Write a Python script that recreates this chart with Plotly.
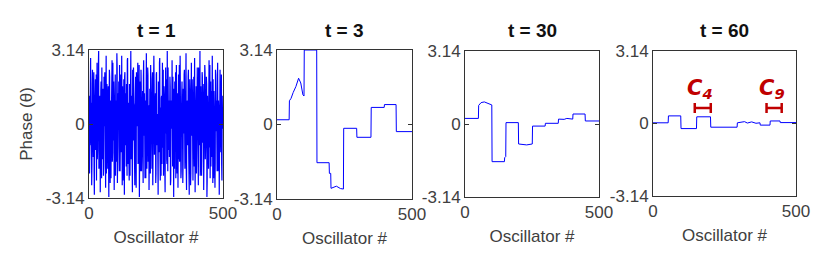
import plotly.graph_objects as go

# the page body adds an 8 px margin, so the figure is 8 px smaller and positions are shifted
OFF = 8
W, H = 830 - OFF, 260 - OFF
BLUE = "#0000ff"
RED = "#c00000"
FONT = "Liberation Sans, Arial, sans-serif"

titles = ["t = 1", "t = 3", "t = 30", "t = 60"]
xtick_vals = [0, 500]
ytick_vals = [-3.14, 0, 3.14]
ytick_text = ["-3.14", "0", "3.14"]

# t = 1 : phases of the even-numbered oscillators (0, 2, ..., 498)
t1_even = [
    1.2, -2.1, 0.4, 2.8, -0.9, -2.6, 1.7, 0.1, -1.4, 2.2, -3.0, 0.8, 1.9, -0.3, -2.4, 2.6, -1.1, 0.6, 3.1, -1.8, 0.2, -2.9, 1.4, -0.6, 2.4,
    -1.5, 0.9, -2.2, 2.0, -0.1, 1.1, -2.7, 2.9, -0.8, 0.3, -1.9, 1.6, -3.1, 2.3, -0.5, 1.0, -2.3, 0.7, 2.7, -1.2, -0.2, 1.8, -2.8, 0.5, 2.1,
    -0.7, -1.6, 3.0, -2.5, 1.3, 0.0, -1.0, 2.5, -2.0, 1.5, -0.4, 2.9, -2.6, 0.6, -1.3, 1.9, -3.0, 2.2, -0.9, 0.4, 1.7, -2.2, 2.8, -1.7, 0.9,
    -2.4, 1.2, -0.3, 3.1, -1.5, 0.2, -2.9, 1.6, 2.4, -0.6, -1.8, 0.8, 2.0, -2.7, 1.1, -0.1, 2.6, -1.4, 0.5, -3.1, 1.8, -0.8, 2.3, -2.0, 0.3,
    1.4, -2.5, 2.7, -0.4, -1.1, 1.0, -2.3, 3.0, -1.9, 0.7, 2.1, -0.2, -2.8, 1.5, -1.6, 2.5, 0.1, -1.0, 1.9, -2.6, 0.6, 2.9, -1.3, -0.5, 1.3,
    -2.1, 2.2, -0.7, 0.4, -3.0, 1.7, -1.2, 2.8, -2.4, 0.0, 1.1, -1.7, 2.6, -0.9, -2.2, 1.6, 0.8, -2.9, 2.4, -0.3, -1.5, 3.1, -2.0, 0.5, 1.0,
    -1.4, 2.0, -2.6, 0.9, -0.2, 2.7, -1.8, 1.2, -3.1, 0.3, 1.8, -0.6, -2.3, 2.5, -1.0, 0.7, -2.7, 2.1, 0.2, -1.6, 2.9, -0.8, -2.0, 1.4, 0.6,
    -2.5, 1.5, -0.4, 2.3, -1.9, 0.1, 3.0, -2.8, 1.0, -0.7, 2.0, -1.2, -3.0, 1.9, 0.4, -2.1, 2.6, -0.5, 1.3, -2.4, 0.8, -1.1, 2.8, -2.9, 0.2,
    1.6, -1.3, 2.4, -0.1, -2.6, 1.1, -0.9, 3.1, -1.7, 0.6, -2.2, 2.2, -0.3, 1.7, -2.8, 0.9, 2.5, -1.5, -0.6, 2.0, -3.1, 1.2, 0.0, -1.9, 2.7,
    -0.8, -2.3, 1.8, 0.5, -1.4, 2.9, -2.5, 0.3, 1.4, -1.0, -2.7, 2.3, -0.2, 1.0, -2.0, 2.6, -1.6, 0.7, -3.0, 1.5, 0.2, -1.2, 2.1, -2.4, 0.8,
]
# t = 1 : phases of the odd-numbered oscillators (1, 3, ..., 499)
t1_odd = [
    0.5, -1.2, 1.9, -0.4, 0.9, -1.7, 2.3, -0.8, 1.3, -2.0, 0.2, 1.6, -1.1, 2.1, -0.6, -1.5, 0.7, 2.5, -1.9, 0.0, 1.2, -0.9, 1.8, -2.3, 0.4,
    -0.3, 1.5, -1.8, 0.8, 2.2, -1.0, 0.3, -2.1, 1.7, -0.5, 1.1, -1.4, 0.6, 2.0, -2.5, 0.9, -0.2, 1.4, -1.6, 2.6, -0.7, 0.1, -1.3, 1.9, -2.2,
    1.0, -0.6, 2.4, -1.5, 0.2, 1.8, -2.0, 0.7, -0.9, 2.1, -1.2, 0.5, 1.6, -2.4, 0.3, -1.1, 2.0, -0.4, 1.3, -1.8, 0.8, 2.7, -1.0, 0.1, -1.6,
    1.7, -2.2, 0.6, -0.3, 1.2, -1.9, 2.3, -0.7, 0.4, 1.5, -2.6, 0.9, -1.3, 2.2, -0.1, 1.0, -1.7, 0.5, 2.5, -1.4, 0.3, -2.0, 1.6, -0.8, 1.1,
    -1.0, 2.0, -0.5, 1.3, -2.3, 0.7, 1.9, -1.2, 0.0, 2.4, -1.6, 0.8, -0.4, 1.5, -2.1, 0.6, 1.1, -1.9, 2.2, -0.2, -1.3, 1.7, -0.6, 0.9, -2.5,
    2.1, -0.9, 0.4, -1.6, 1.8, -0.3, 2.6, -1.4, 0.7, -2.2, 1.2, 0.1, -1.0, 2.3, -0.7, 1.4, -2.0, 0.5, -0.4, 1.9, -1.7, 0.8, 2.4, -1.1, 0.2,
    -0.5, 1.6, -2.4, 1.0, 0.3, -1.3, 2.0, -0.6, 1.5, -1.9, 0.6, 2.2, -1.0, 0.0, -2.1, 1.3, 0.7, -1.5, 2.5, -0.8, 1.1, -2.3, 0.4, 1.8, -0.2,
    -1.7, 0.9, 2.1, -0.4, -1.2, 1.7, -2.0, 0.5, 1.0, -0.9, 2.3, -1.6, 0.2, 1.4, -2.6, 0.8, -0.3, 1.9, -1.1, 0.6, 2.0, -1.8, 0.3, -0.7, 1.5,
    -2.1, 0.7, 1.2, -1.4, 2.4, -0.5, 0.9, -2.2, 1.6, -0.1, -1.5, 2.0, -0.8, 1.1, -1.9, 0.4, 2.2, -1.2, 0.0, 1.7, -2.4, 0.6, -0.6, 1.3, -1.0,
    2.5, -0.7, -1.8, 1.4, 0.2, -1.1, 1.9, -2.3, 0.8, 0.5, -1.6, 2.1, -0.3, -0.9, 1.6, -2.0, 1.0, 0.3, -1.4, 2.3, -0.5, 0.9, -1.7, 1.2, -0.2,
]
t1_x, t1_y = [], []
for k, (ve, vo) in enumerate(zip(t1_even, t1_odd)):
    t1_x += [2 * k, 2 * k + 1]
    t1_y += [ve, vo]

# t = 3 : clusters forming (oscillator index, phase)
t3_x = [0, 45, 46, 52, 60, 70, 80, 88, 96, 100, 101, 147, 148, 193, 194, 199, 200, 220, 235, 246, 247, 295, 296, 348, 349, 397, 398, 441, 442, 500]
t3_y = [0.2, 0.2, 1.0, 1.1, 1.35, 1.6, 1.95, 1.75, 1.25, 1.2, 3.14, 3.14, -1.61, -1.61, -2.06, -2.06, -2.69, -2.6, -2.7, -2.72, -0.16, -0.16, -0.54, -0.54, 0.72, 0.72, 0.84, 0.84, -0.30, -0.30]

# t = 30
t30_x = [0, 50, 51, 60, 72, 85, 100, 101, 147, 148, 152, 153, 199, 200, 230, 251, 252, 299, 300, 348, 349, 370, 380, 402, 403, 448, 449, 500]
t30_y = [0.24, 0.24, 0.80, 0.92, 0.95, 0.88, 0.82, -1.62, -1.62, -1.45, -1.40, 0.06, 0.06, -0.86, -0.90, -0.86, -0.09, -0.09, 0.03, 0.03, 0.21, 0.20, 0.24, 0.21, 0.43, 0.43, 0.13, 0.13]

# t = 60
t60_x = [0, 53, 54, 97, 98, 152, 153, 201, 202, 294, 295, 320, 330, 345, 360, 374, 375, 409, 410, 444, 445, 500]
t60_y = [0.03, 0.03, 0.33, 0.33, -0.22, -0.22, 0.29, 0.29, -0.16, -0.16, 0.03, 0.08, 0.02, 0.07, 0.01, 0.03, -0.07, -0.07, 0.11, 0.11, 0.04, 0.04]

series_x = [t1_x, t3_x, t30_x, t60_x]
series_y = [t1_y, t3_y, t30_y, t60_y]
line_widths = [1.2, 1, 1, 1]

# cluster markers on t = 60 panel: (label, subscript, start, end)
clusters = [("C", "4", 146, 202), ("C", "9", 397, 450)]
cluster_bar_y = 0.67
cluster_label_y = 1.5

# panel pixel boxes in the page (left, right, top, bottom)
boxes = [(89, 223, 50, 198), (277, 412, 50, 199), (465, 599, 51, 197), (653, 796, 51, 196)]


def px(x):
    return (x - OFF) / W


def py(y):
    return 1 - (y - OFF) / H


fig = go.Figure()
for i in range(4):
    n = "" if i == 0 else str(i + 1)
    fig.add_trace(go.Scatter(x=series_x[i], y=series_y[i], mode="lines",
                             line=dict(color=BLUE, width=line_widths[i]), xaxis="x" + n, yaxis="y" + n,
                             showlegend=False, hoverinfo="skip"))
    l, r, t, b = boxes[i]
    axis_common = dict(showgrid=False, zeroline=False, showline=True, linecolor="#333333",
                       linewidth=1, mirror="ticks", ticks="inside", ticklen=4, tickcolor="#333333",
                       automargin=False,
                       tickfont=dict(family=FONT, size=17, color="#404040"))
    fig.layout["xaxis" + n] = dict(domain=[px(l), px(r)], range=[0, 500], tickvals=xtick_vals,
                                   anchor="y" + n,
                                   title=dict(text="Oscillator #", standoff=8,
                                              font=dict(family=FONT, size=17, color="#404040")),
                                   **axis_common)
    ydict = dict(domain=[py(b), py(t)], range=[-3.14, 3.14], tickvals=ytick_vals,
                 ticktext=ytick_text, anchor="x" + n, **axis_common)
    if i == 0:
        ydict["title"] = dict(text="Phase (θ)", standoff=8,
                              font=dict(family=FONT, size=17, color="#404040"))
    fig.layout["yaxis" + n] = ydict
    fig.add_annotation(text="<b>" + titles[i] + "</b>", x=px((l + r) / 2), y=py(30),
                       xref="paper", yref="paper", xanchor="center", yanchor="middle",
                       showarrow=False, font=dict(family=FONT, size=19, color="#111111"))

for base, sub, s, e in clusters:
    mid = (s + e) / 2
    fig.add_trace(go.Scatter(x=[mid], y=[cluster_bar_y], mode="markers",
                             marker=dict(size=1, color=RED, opacity=0),
                             error_x=dict(type="constant", value=(e - s) / 2, color=RED,
                                          thickness=2.5, width=5),
                             xaxis="x4", yaxis="y4", showlegend=False, hoverinfo="skip"))
    fig.add_annotation(text="<b><i>" + base + "<sub>" + sub + "</sub></i></b>", x=mid - 8,
                       y=cluster_label_y, xref="x4", yref="y4", xanchor="center",
                       showarrow=False,
                       font=dict(family="DejaVu Sans, sans-serif", size=21, color=RED))

fig.update_layout(width=W, height=H, margin=dict(l=0, r=0, t=0, b=0),
                  paper_bgcolor="white", plot_bgcolor="white")
fig.write_html("out.html")
